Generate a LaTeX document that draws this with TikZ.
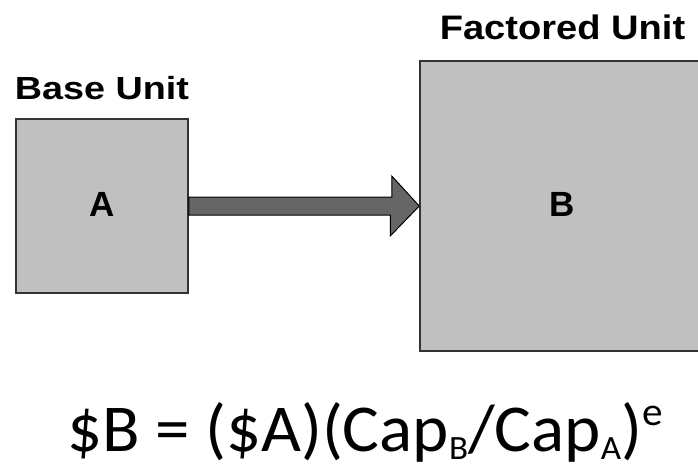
\documentclass[tikz,border=0pt]{standalone}
\usepackage{fontspec}
\usepackage{graphicx}
\setmainfont{Liberation Sans}
\newfontfamily\calibrifont{Carlito}
\usetikzlibrary{positioning,calc}

\definecolor{unitgray}{HTML}{C0C0C0}
\definecolor{arrowgray}{HTML}{666666}
\definecolor{edgegray}{HTML}{333333}

\newcommand{\capsub}[1]{\raisebox{-8pt}{\fontsize{34}{34}\selectfont #1}}
\newcommand{\expsup}[1]{\raisebox{26pt}{\fontsize{40}{40}\selectfont #1}}

\begin{document}
\begin{tikzpicture}[x=1pt,y=-1pt]
\useasboundingbox (0,0) rectangle (698,469);
% Draw base and factored units
   \begin{scope}[ unit/.style={rectangle,draw=edgegray,line width=1.5pt,fill=unitgray,
                      font=\fontsize{35}{40}\selectfont\bfseries,inner sep=0pt},
                   unitlabel/.style={font=\bfseries,inner sep=0pt},
                   fatarrow/.style={draw=black,line width=1pt,fill=arrowgray,line join=miter} ]
     \node [unit,minimum width=172pt,minimum height=174pt] (base) at (102,206) {\raisebox{3pt}{A}};
     \node [unit,minimum width=285pt,minimum height=290pt] (factored) at (562.5,206) {\raisebox{3pt}{B}};
     \node [unitlabel,above=19pt of base.north,anchor=base,font=\fontsize{32}{36}\selectfont\bfseries]
           (baselabel) {\scalebox{1.18}[1]{Base Unit}};
     \node [unitlabel,above=21pt of factored.north,anchor=base,font=\fontsize{34}{38}\selectfont\bfseries]
           (factoredlabel) {\scalebox{1.12}[1]{Factored Unit}};
     \draw [fatarrow] ($(base.east)+(0,-9)$) -- ++(203,0) -- ++(0,-21) -- (factored.west)
           -- ++(-29,30) -- ++(0,-21) -- ($(base.east)+(0,9)$) -- cycle;
     \node [anchor=base west,inner sep=0pt,font=\calibrifont\fontsize{67}{70}\selectfont]
           (costeq) at (67,451) {\scalebox{1.03}[1]{\$B = (\$A)(Cap\capsub{B}/Cap\capsub{A})\expsup{e}}};
   \end{scope}
\end{tikzpicture}
\end{document}
